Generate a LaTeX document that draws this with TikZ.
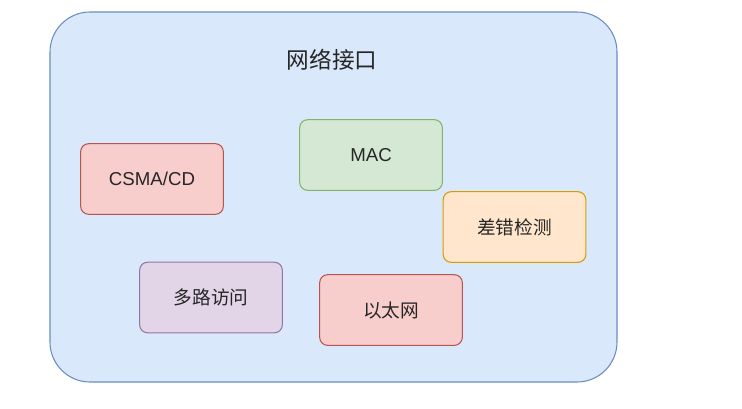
\documentclass[tikz,border=0pt]{standalone}
\usepackage{fontspec}
\setmainfont{Liberation Sans}
\newfontfamily\cjk{Noto Sans CJK SC}
\usetikzlibrary{calc}

\definecolor{bgfill}{HTML}{DAE8FC}
\definecolor{bgline}{HTML}{6C8EBF}
\definecolor{redfill}{HTML}{F8CECC}
\definecolor{redline}{HTML}{B85450}
\definecolor{greenfill}{HTML}{D5E8D4}
\definecolor{greenline}{HTML}{82B366}
\definecolor{orangefill}{HTML}{FFE6CC}
\definecolor{orangeline}{HTML}{D79B00}
\definecolor{purplefill}{HTML}{E1D5E7}
\definecolor{purpleline}{HTML}{9673A6}

\tikzset{
  box/.style={draw,line width=0.8pt,rounded corners=6pt,
    minimum width=107pt,minimum height=53pt,font=\fontsize{14}{16}\selectfont,
    text=black!85},
  cjkbox/.style={box,font=\cjk\fontsize{14}{16}\selectfont},
}

\begin{document}
\begin{tikzpicture}[x=0.75pt,y=-0.75pt]
  \useasboundingbox (0,0) rectangle (742,408);
  % outer frame
  \draw[bgline,fill=bgfill,line width=0.8pt,rounded corners=30pt] (50,12) rectangle (617,382);
  \node[font=\cjk\fontsize{17}{20}\selectfont,text=black!85] (title) at (332,60) {网络接口};
  % blocks
  \node[box,draw=redline,fill=redfill] (csma) at (152,179) {CSMA/CD};
  \node[box,draw=greenline,fill=greenfill] (mac) at (371,155) {MAC};
  \node[cjkbox,draw=orangeline,fill=orangefill] (err) at (514.5,227) {差错检测};
  \node[cjkbox,draw=purpleline,fill=purplefill] (multi) at (211,297.5) {多路访问};
  \node[cjkbox,draw=redline,fill=redfill] (eth) at (391,310) {以太网};
\end{tikzpicture}
\end{document}
